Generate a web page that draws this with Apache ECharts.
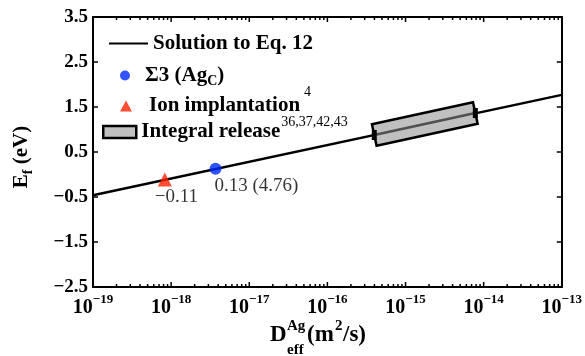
<!DOCTYPE html>
<html>
<head>
<meta charset="utf-8">
<script src="https://cdn.jsdelivr.net/npm/echarts@6/dist/echarts.min.js"></script>
<style>
  html, body { margin: 0; padding: 0; background: #fff; }
  #chart { width: 585px; height: 356px; }
</style>
</head>
<body>
<div id="chart"></div>
<script>
// data
const lineD = [1e-19, 1e-13]          // Solution to Eq. 12 (end points)
const lineE = [-0.46, 1.77]
const sigma3D = [3.7e-18]             // Σ3 (Ag_C)
const sigma3E = [0.13]
const ionD = [8.3e-19]                // ion implantation
const ionE = [-0.11]
const releaseD = [3.98e-16, 7.82e-15] // integral release range
const releaseE = [0.878, 1.367]

// axes
const xRange = [1e-19, 1e-13]
const yRange = [-2.5, 3.5]
const yTicks = [-2.5, -1.5, -0.5, 0.5, 1.5, 2.5, 3.5]
const decadeExps = [-19, -18, -17, -16, -15, -14, -13]
const minorMantissas = [2, 3, 4, 5, 6, 7, 8, 9]
const xMajorTicks = decadeExps.map(e => Math.pow(10, e))
const xMinorTicks = decadeExps.slice(0, -1).flatMap(e => minorMantissas.map(m => m * Math.pow(10, e)))

const serif = 'Liberation Serif, Times New Roman, serif'
const minus = s => String(s).replace('-', '\u2212')

const chart = echarts.init(document.getElementById('chart'))

const legendRich = {
  t: { fontFamily: serif, fontWeight: 'bold', fontSize: 21, color: '#000', lineHeight: 24 },
  sp: { width: 12 },
  sp2: { width: 10 },
  sub: { fontFamily: serif, fontWeight: 'bold', fontSize: 14, color: '#000', padding: [12, 0, 0, 0] },
  sup4: { fontFamily: serif, fontSize: 14, color: '#000', verticalAlign: 'top', padding: [0, 0, 28, 4] },
  sup: { fontFamily: serif, fontSize: 14, color: '#000', verticalAlign: 'top', padding: [0, 0, 20, 1] }
}
const legendText = {
  'Solution to Eq. 12': '{t|Solution to Eq. 12}',
  'Σ3 (AgC)': '{sp2| }{t|Σ3 (Ag}{sub|C}{t|)}',
  'Ion implantation': '{sp| }{t|Ion implantation}{sup4|4}',
  'Integral release': '{t|Integral release}{sup|36,37,42,43}'
}
// one legend block per entry so each row can sit where it is in the figure
const legendRow = (name, left, top, w, h, extra) => Object.assign({
  orient: 'vertical',
  left: left,
  top: top,
  padding: 0,
  itemWidth: w,
  itemHeight: h,
  selectedMode: false,
  formatter: n => legendText[n],
  textStyle: { rich: legendRich },
  data: [name]
}, extra || {})

const tickLine = (x1, y1, x2, y2) => ({
  type: 'line',
  shape: { x1: x1, y1: y1, x2: x2, y2: y2 },
  style: { stroke: '#000', lineWidth: 1.5 }
})

const option = {
  animation: false,
  backgroundColor: '#fff',
  grid: { left: 93, right: 23, top: 17, bottom: 69 },
  legend: [
    legendRow('Solution to Eq. 12', 108, 33, 39, 12),
    legendRow('Σ3 (AgC)', 120, 65, 10, 10),
    legendRow('Ion implantation', 120, 85, 12, 11),
    legendRow('Integral release', 102, 115, 33, 12, {
      data: [{ name: 'Integral release', icon: 'rect', itemStyle: { color: '#c0c0c0', borderColor: '#000', borderWidth: 2.5 } }]
    })
  ],
  xAxis: [
    {
      type: 'log',
      logBase: 10,
      min: xRange[0],
      max: xRange[1],
      interval: 1,
      axisLine: { onZero: false, lineStyle: { color: '#000', width: 2 } },
      axisTick: { show: false },
      splitLine: { show: false },
      axisLabel: {
        margin: -5,
        formatter: v => '{b|10}{s|' + minus(Math.round(Math.log10(v))) + '}',
        rich: {
          b: { fontFamily: serif, fontWeight: 'bold', fontSize: 20, color: '#000', padding: [16, 0, 0, 0] },
          s: { fontFamily: serif, fontWeight: 'bold', fontSize: 13, color: '#000' }
        }
      }
    },
    {
      type: 'log',
      logBase: 10,
      position: 'top',
      min: xRange[0],
      max: xRange[1],
      interval: 1,
      axisLine: { onZero: false, lineStyle: { color: '#000', width: 2 } },
      axisTick: { show: false },
      splitLine: { show: false },
      axisLabel: { show: false }
    }
  ],
  yAxis: [
    {
      type: 'value',
      min: yRange[0],
      max: yRange[1],
      interval: 1,
      name: '{b|E}{sub|f}{b| (eV)}',
      nameLocation: 'middle',
      nameRotate: 90,
      nameGap: 58,
      nameTextStyle: {
        padding: [0, 10, 0, 0],
        rich: {
          b: { fontFamily: serif, fontWeight: 'bold', fontSize: 21, color: '#000' },
          sub: { fontFamily: serif, fontWeight: 'bold', fontSize: 14, color: '#000', padding: [12, 0, 0, 0] }
        }
      },
      axisLine: { show: true, onZero: false, lineStyle: { color: '#000', width: 2 } },
      axisTick: { show: false },
      splitLine: { show: false },
      axisLabel: {
        margin: 5,
        fontFamily: serif,
        fontWeight: 'bold',
        fontSize: 19,
        color: '#000',
        formatter: v => minus(v.toFixed(1))
      }
    },
    {
      type: 'value',
      position: 'right',
      min: yRange[0],
      max: yRange[1],
      interval: 1,
      axisLine: { show: true, onZero: false, lineStyle: { color: '#000', width: 2 } },
      axisTick: { show: false },
      splitLine: { show: false },
      axisLabel: { show: false }
    }
  ],
  graphic: [
    {
      type: 'group',
      left: 270,
      top: 319,
      children: [
        { type: 'text', x: 0, y: 16, style: { text: 'D', font: 'bold 23px ' + serif, fill: '#000', verticalAlign: 'middle' } },
        { type: 'text', x: 17, y: 7, style: { text: 'Ag', font: 'bold 15px ' + serif, fill: '#000', verticalAlign: 'middle' } },
        { type: 'text', x: 17, y: 31, style: { text: 'eff', font: 'bold 15px ' + serif, fill: '#000', verticalAlign: 'middle' } },
        { type: 'text', x: 37, y: 16, style: { text: '(m', font: 'bold 23px ' + serif, fill: '#000', verticalAlign: 'middle' } },
        { type: 'text', x: 65, y: 7, style: { text: '2', font: 'bold 15px ' + serif, fill: '#000', verticalAlign: 'middle' } },
        { type: 'text', x: 73, y: 16, style: { text: '/s)', font: 'bold 23px ' + serif, fill: '#000', verticalAlign: 'middle' } }
      ]
    }
  ],
  series: [
    {
      // inward ticks on the bottom and top frame
      type: 'custom',
      silent: true,
      clip: false,
      data: xMajorTicks.map(d => [d, yRange[0], 1]).concat(xMinorTicks.map(d => [d, yRange[0], 0])),
      renderItem: (params, api) => {
        const b = api.coord([api.value(0), yRange[0]])
        const t = api.coord([api.value(0), yRange[1]])
        const len = api.value(2) ? 5 : 3
        return { type: 'group', children: [tickLine(b[0], b[1], b[0], b[1] - len), tickLine(t[0], t[1], t[0], t[1] + len)] }
      },
      z: 1
    },
    {
      // inward ticks on the left and right frame
      type: 'custom',
      silent: true,
      clip: false,
      data: yTicks.map(v => [xRange[0], v]),
      renderItem: (params, api) => {
        const l = api.coord([xRange[0], api.value(1)])
        const r = api.coord([xRange[1], api.value(1)])
        return { type: 'group', children: [tickLine(l[0], l[1], l[0] + 5, l[1]), tickLine(r[0], r[1], r[0] - 5, r[1])] }
      },
      z: 1
    },
    {
      name: 'Solution to Eq. 12',
      type: 'line',
      symbol: 'none',
      lineStyle: { color: '#000', width: 2.5 },
      itemStyle: { color: 'rgba(0,0,0,0)', borderWidth: 0 },
      data: lineD.map((d, i) => [d, lineE[i]]),
      z: 2
    },
    {
      name: 'Integral release',
      type: 'custom',
      itemStyle: { color: '#c0c0c0', borderColor: '#000', borderWidth: 2.5 },
      encode: { x: [0, 2], y: [1, 3] },
      data: [[releaseD[0], releaseE[0], releaseD[1], releaseE[1]]],
      renderItem: (params, api) => {
        const p0 = api.coord([api.value(0), api.value(1)])
        const p1 = api.coord([api.value(2), api.value(3)])
        const dx = p1[0] - p0[0]
        const dy = p1[1] - p0[1]
        const len = Math.sqrt(dx * dx + dy * dy)
        const nx = -dy / len * 11
        const ny = dx / len * 11
        return {
          type: 'group',
          children: [
            {
              type: 'polygon',
              shape: { points: [[p0[0] + nx, p0[1] + ny], [p1[0] + nx, p1[1] + ny], [p1[0] - nx, p1[1] - ny], [p0[0] - nx, p0[1] - ny]] },
              style: { fill: '#c0c0c0', stroke: '#000', lineWidth: 2.5 }
            },
            {
              type: 'line',
              shape: { x1: p0[0], y1: p0[1], x2: p1[0], y2: p1[1] },
              style: { stroke: '#505050', lineWidth: 2.5 }
            },
            { type: 'rect', shape: { x: p0[0] - 2.5, y: p0[1] - 5, width: 5, height: 10 }, style: { fill: '#000' } },
            { type: 'rect', shape: { x: p1[0] - 2.5, y: p1[1] - 5, width: 5, height: 10 }, style: { fill: '#000' } }
          ]
        }
      },
      z: 3
    },
    {
      name: 'Σ3 (AgC)',
      type: 'scatter',
      symbol: 'circle',
      symbolSize: 12,
      itemStyle: { color: '#0028ff' },
      label: {
        show: true,
        position: 'bottom',
        distance: 2,
        align: 'left',
        offset: [-1, 0],
        fontFamily: serif,
        fontSize: 19,
        color: '#000',
        formatter: () => '0.13 (4.76)'
      },
      data: sigma3D.map((d, i) => [d, sigma3E[i]]),
      z: 4
    },
    {
      name: 'Ion implantation',
      type: 'scatter',
      symbol: 'triangle',
      symbolSize: 14,
      itemStyle: { color: '#ff2200' },
      label: {
        show: true,
        position: 'bottom',
        distance: 1,
        align: 'left',
        offset: [-10, 0],
        fontFamily: serif,
        fontSize: 19,
        color: '#000',
        formatter: p => minus(p.value[1].toFixed(2))
      },
      data: ionD.map((d, i) => [d, ionE[i]]),
      z: 4
    }
  ]
}

chart.setOption(option)
</script>
</body>
</html>
